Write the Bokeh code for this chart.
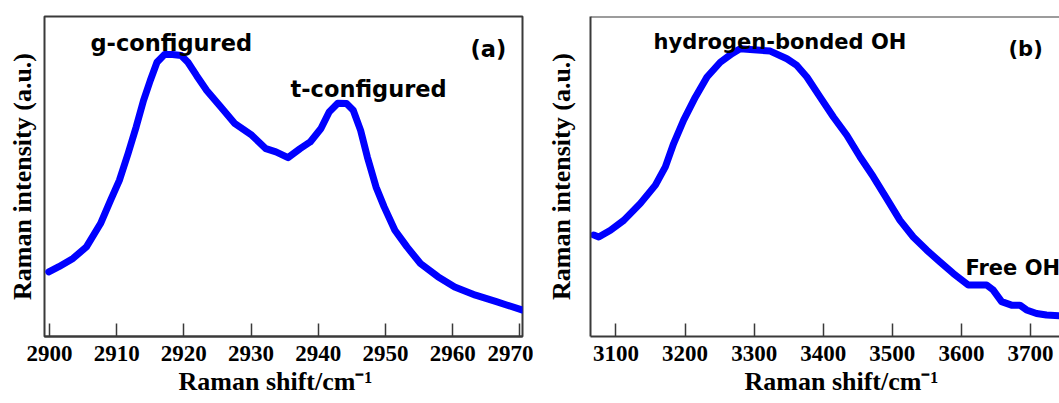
from bokeh.plotting import figure
from bokeh.models import Range1d, FixedTicker, Label, Span, Title
from bokeh.layouts import row
from bokeh.embed import file_html
from bokeh.resources import INLINE

# ---------------- data ----------------
a_shift = [2899.9, 2901.4, 2903.5, 2905.5, 2907.6, 2909.1, 2910.4, 2911.7, 2912.9, 2914.0,
           2915.0, 2916.0, 2917.1, 2918.3, 2919.6, 2920.6, 2921.9, 2923.4, 2925.5, 2927.6,
           2930.1, 2932.2, 2933.7, 2935.5, 2937.3, 2938.8, 2940.4, 2941.6, 2942.9, 2944.2,
           2945.2, 2946.3, 2947.3, 2948.6, 2949.8, 2951.4, 2953.2, 2955.2, 2957.8, 2960.3,
           2963.4, 2966.5, 2970.3]
a_intensity = [20.2, 21.8, 24.4, 28.0, 35.3, 42.6, 48.8, 57.2, 65.5, 73.8,
               80.0, 85.7, 88.1, 88.1, 87.8, 85.7, 81.5, 76.9, 71.7, 66.5,
               62.9, 58.7, 57.7, 55.9, 58.7, 60.8, 65.0, 70.1, 72.9, 72.8,
               70.7, 64.4, 56.1, 46.7, 40.5, 33.2, 28.0, 22.8, 18.7, 15.5,
               12.9, 10.9, 8.3]

b_shift = [3067.9, 3075.1, 3092.1, 3111.3, 3135.4, 3157.1, 3171.5, 3183.5, 3198.0, 3214.9,
           3231.8, 3251.0, 3267.9, 3279.9, 3299.1, 3323.3, 3347.4, 3361.8, 3376.3, 3395.5,
           3414.7, 3434.1, 3453.3, 3472.5, 3491.9, 3511.1, 3530.3, 3549.7, 3568.9, 3588.2,
           3609.8, 3636.4, 3646.0, 3658.1, 3672.5, 3684.6, 3694.2, 3708.7, 3723.1, 3742.0]
b_intensity = [31.7, 31.1, 33.2, 36.3, 41.6, 47.3, 53.0, 60.3, 67.6, 74.8,
               81.1, 85.7, 88.4, 89.9, 89.6, 89.2, 86.8, 84.7, 81.1, 74.8,
               68.6, 62.9, 56.1, 49.9, 43.1, 36.3, 31.1, 27.0, 23.3, 19.7,
               16.1, 16.1, 14.5, 10.9, 9.8, 9.8, 8.3, 7.2, 6.7, 6.5]

a_ticks = [2900, 2910, 2920, 2930, 2940, 2950, 2960, 2970]
b_ticks = [3100, 3200, 3300, 3400, 3500, 3600, 3700]

x_title = "Raman shift/cm\u207b\u00b9"
y_title = "Raman intensity (a.u.)"

a_notes = [("g-configured", 46, 294), ("t-configured", 246, 248), ("(a)", 426, 288)]
b_notes = [("hydrogen-bonded OH", 63, 295), ("(b)", 418, 288), ("Free OH", 375, 69)]

SERIF = "Liberation Serif"
SANS = "DejaVu Sans"
FRAME_COLOR = "#3a3a3a"
BLUE = "#0000ff"
FIG_H = 403


def panel(width, left, right, xr, xs, ys, ticks, notes, note_size, title_offset, ylabel_standoff, outline):
    p = figure(width=width, height=FIG_H, x_range=Range1d(*xr), y_range=Range1d(0, 100),
               output_backend="svg", toolbar_location=None,
               min_border_left=left, min_border_right=right,
               min_border_top=16, min_border_bottom=FIG_H - 16 - 320)
    p.grid.visible = False

    ax = p.xaxis[0]
    ax.ticker = FixedTicker(ticks=ticks, minor_ticks=[])
    ax.major_tick_in = 13
    ax.major_tick_out = 0
    ax.minor_tick_in = 0
    ax.minor_tick_out = 0
    ax.major_tick_line_width = 1.5
    ax.major_tick_line_color = FRAME_COLOR
    ax.axis_line_width = 2
    ax.axis_line_color = FRAME_COLOR
    ax.major_label_text_font = SERIF
    ax.major_label_text_font_style = "bold"
    ax.major_label_text_font_size = "23px"
    ax.major_label_text_color = "black"
    ax.major_label_standoff = 9

    yax = p.yaxis[0]
    yax.ticker = FixedTicker(ticks=[], minor_ticks=[])
    yax.major_tick_in = 0
    yax.major_tick_out = 0
    yax.minor_tick_in = 0
    yax.minor_tick_out = 0
    yax.major_label_standoff = 0
    yax.axis_label = y_title
    yax.axis_label_standoff = ylabel_standoff
    yax.axis_label_text_font = SERIF
    yax.axis_label_text_font_style = "bold"
    yax.axis_label_text_font_size = "26px"
    yax.axis_label_text_color = "black"

    if outline:
        yax.axis_line_color = None
        p.outline_line_color = FRAME_COLOR
        p.outline_line_width = 2
        p.outline_line_alpha = 1
    else:
        yax.axis_line_color = FRAME_COLOR
        yax.axis_line_width = 2
        p.outline_line_color = None
        p.add_layout(Span(location=100, dimension="width", line_color=FRAME_COLOR, line_width=2))

    p.add_layout(Title(text=x_title, align="left", offset=title_offset, standoff=3,
                       text_font=SERIF, text_font_style="bold", text_font_size="26px",
                       text_color="black"), "below")

    p.line(xs, ys, line_color=BLUE, line_width=7, line_join="round", line_cap="round")

    for txt, x, y in notes:
        p.add_layout(Label(x=x, y=y, x_units="screen", y_units="screen", text=txt,
                           text_font=SANS, text_font_style="bold",
                           text_font_size=note_size, text_color="black",
                           text_baseline="alphabetic", text_align="left"))
    return p


p1 = panel(533, 44, 11, (2899.26, 2970.39), a_shift, a_intensity, a_ticks, a_notes, "22.5px",
           134, 8, True)
p2 = panel(526, 57, 0, (3063.2, 3741.9), b_shift, b_intensity, b_ticks, b_notes, "21px",
           154, 15, False)

layout = row(p1, p2)
open("out.html", "w").write(file_html(layout, INLINE))
